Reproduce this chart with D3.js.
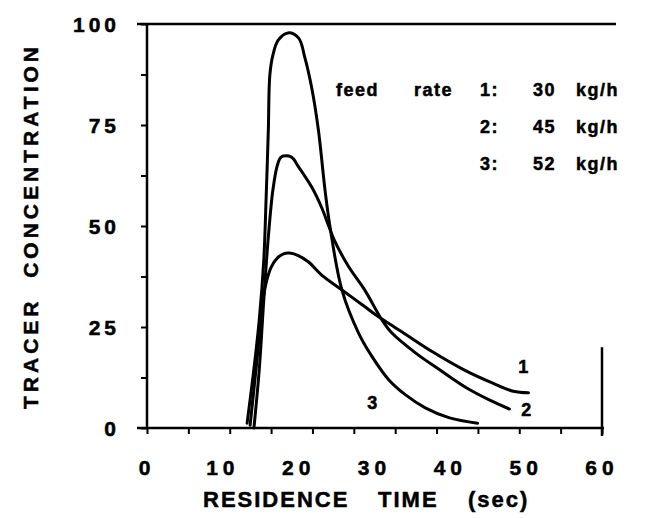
<!DOCTYPE html>
<html>
<head>
<meta charset="utf-8">
<script src="https://cdn.jsdelivr.net/npm/d3@7"></script>
<style>
  html,body{margin:0;padding:0;background:#fff;}
  svg{display:block;font-family:"Liberation Sans",Arial,Helvetica,sans-serif;font-weight:bold;}
  svg text{fill:#000;stroke:#000;stroke-width:0.5px;}
</style>
</head>
<body>
<div id="chart"></div>
<script>
// tracer curves: [residence time (s), concentration]
const curve1 = [[13.6,0.7],[14.5,16.8],[15.3,31.7],[15.8,36.6],[16.4,39.9],[17.2,42.1],[18.0,43.1],[18.8,43.3],
  [19.8,42.8],[21.3,41.1],[23.0,37.9],[25.3,34.7],[27.0,32.4],[28.6,30.2],[30.1,28.1],[31.7,26.1],[32.7,24.9],
  [33.7,23.7],[37.7,18.8],[41.8,14.4],[45.6,11.1],[48.3,9.1],[50.3,8.7]];
const curve2 = [[14.1,0],[14.8,14.4],[15.4,31.7],[16.0,47.3],[16.6,58.9],[17.2,65.1],[17.7,67.1],[19.0,67.1],
  [20.0,64.6],[21.7,59.7],[23.0,54.7],[24.0,49.8],[24.7,46.5],[26.6,39.9],[28.7,34.2],[31.0,26.7],[32.3,23.5],
  [35.4,18.6],[38.6,14.4],[42.0,10.1],[45.2,6.9],[47.8,4.7]];
const curve3 = [[13.2,1.2],[14.0,13.1],[14.8,26.7],[15.4,41.6],[15.7,56.4],[16.0,73.8],[16.2,87.4],[16.6,92.3],
  [17.3,96.0],[18.6,97.8],[20.0,96.5],[20.8,91.8],[21.7,84.4],[22.6,73.8],[23.5,58.5],[24.2,49.0],[25.7,34.2],
  [27.9,23.5],[29.7,17.6],[31.9,11.9],[34.1,8.2],[36.7,5.0],[39.9,2.5],[43.6,1.2]];
const curveTags = ['1','2','3'];
const tagSpots = [[49.6,15.1],[50.0,4.5],[29.7,6.2]];
const feedRates = [30,45,52];
const xLabels = [0,10,20,30,40,50,60];
const yLabels = [0,25,50,75,100];

(function(){
  const W = 659, H = 518;
  const m = {top:24,right:57,bottom:90,left:147};
  const w = W-m.left-m.right, h = H-m.top-m.bottom;

  const x = d3.scaleLinear().domain([0,60]).range([0,w]);
  const y = d3.scaleLinear().domain([0,100]).range([h,0]);

  const svg = d3.select('#chart').append('svg').attr('width',W).attr('height',H);
  const g = svg.append('g').attr('transform',`translate(${m.left},${m.top})`);

  // frame: left axis, bottom axis, top line, short right edge near the bottom
  const frame = g.append('g').attr('stroke','#000').attr('stroke-width',2.5).attr('fill','none');
  frame.append('line').attr('x1',0).attr('x2',0).attr('y1',0).attr('y2',h);
  frame.append('line').attr('x1',-10).attr('x2',w+2).attr('y1',h).attr('y2',h);
  frame.append('line').attr('x1',-10).attr('x2',w+14).attr('y1',0).attr('y2',0);
  frame.append('line').attr('x1',w).attr('x2',w).attr('y1',y(20)).attr('y2',h+8);

  // y ticks every 12.5
  g.append('g').call(d3.axisLeft(y).tickValues(d3.range(0,101,12.5)).tickSize(6).tickFormat(''))
    .call(a=>a.select('.domain').remove())
    .call(a=>a.selectAll('line').attr('stroke','#000').attr('stroke-width',2));
  // x ticks: 11 divisions of the frame, not aligned with labels (as in the original)
  g.append('g').attr('transform',`translate(0,${h})`)
    .call(d3.axisBottom(x).tickValues(d3.range(12).map(i=>i*60/11)).tickSize(6).tickFormat(''))
    .call(a=>a.select('.domain').remove())
    .call(a=>a.selectAll('line').attr('stroke','#000').attr('stroke-width',2));

  // tick labels
  g.append('g').selectAll('text').data(yLabels).join('text')
    .attr('x',-27).attr('y',d=>y(d)).attr('dy','0.36em').attr('text-anchor','end')
    .style('font-size','21px').style('letter-spacing','4px').text(d=>d);
  g.append('g').selectAll('text').data(xLabels).join('text')
    .attr('x',d=>x(d)).attr('y',h+47).attr('text-anchor','middle')
    .style('font-size','21px').style('letter-spacing','5px').text(d=>d);

  // axis titles
  const xt = g.append('text').attr('y',h+79).style('font-size','22px').style('letter-spacing','2px');
  xt.append('tspan').attr('x',56).text('RESIDENCE');
  xt.append('tspan').attr('x',231).text('TIME');
  xt.append('tspan').attr('x',321).text('(sec)');
  svg.append('text').attr('transform','rotate(-90)')
    .attr('x',-(m.top+h/2)).attr('y',30).attr('dy','0.36em').attr('text-anchor','middle')
    .style('font-size','21px').style('letter-spacing','4px').style('white-space','pre')
    .text('TRACER  CONCENTRATION');

  // curves
  const line = d3.line().x(d=>x(d[0])).y(d=>y(d[1])).curve(d3.curveCatmullRom.alpha(0.5));
  [curve1,curve2,curve3].forEach(c=>{
    g.append('path').datum(c).attr('fill','none').attr('stroke','#000')
      .attr('stroke-width',3).attr('stroke-linejoin','round').attr('stroke-linecap','round').attr('d',line);
  });
  g.append('g').selectAll('text').data(curveTags).join('text')
    .attr('x',(d,i)=>x(tagSpots[i][0])).attr('y',(d,i)=>y(tagSpots[i][1])).attr('dy','0.36em')
    .attr('text-anchor','middle').style('font-size','18px').text(d=>d);

  // legend block
  const leg = svg.append('g').style('font-size','18px').style('letter-spacing','1.5px');
  leg.append('text').attr('x',336).attr('y',96).text('feed');
  leg.append('text').attr('x',414).attr('y',96).text('rate');
  feedRates.forEach((r,i)=>{
    const yy = 96+i*37;
    leg.append('text').attr('x',480).attr('y',yy).text(`${i+1}:`);
    leg.append('text').attr('x',533).attr('y',yy).text(r);
    leg.append('text').attr('x',576).attr('y',yy).text('kg/h');
  });
})();
</script>
</body>
</html>
